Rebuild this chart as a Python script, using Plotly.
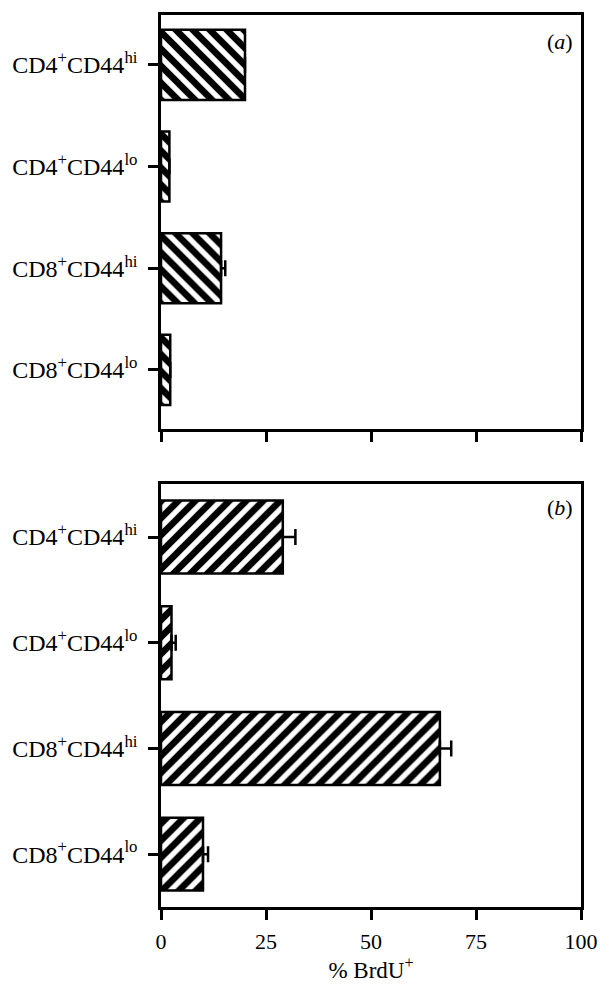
import plotly.graph_objects as go

# Data (top to bottom in the chart)
categories = ["CD4<sup>+</sup>CD44<sup>hi</sup>", "CD4<sup>+</sup>CD44<sup>lo</sup>",
              "CD8<sup>+</sup>CD44<sup>hi</sup>", "CD8<sup>+</sup>CD44<sup>lo</sup>"]
values_a = [20.0, 2.0, 14.3, 2.2]
err_a = [0, 0, 1.0, 0]
values_b = [29.0, 2.5, 66.4, 10.0]
err_b = [3.0, 1.0, 2.7, 1.2]
x_ticks = [0, 25, 50, 75, 100]

FONT = "Liberation Serif, Times New Roman, serif"
cat_order = list(reversed(categories))  # bottom-to-top

fig = go.Figure()

def add_bars(vals, errs, shape, xa, ya):
    fig.add_trace(go.Bar(
        x=vals, y=categories, orientation="h",
        xaxis=xa, yaxis=ya,
        marker=dict(color="white", line=dict(color="black", width=2.5),
                    pattern=dict(shape=shape, fgcolor="black", bgcolor="white",
                                 size=12, solidity=0.55, fillmode="replace")),
        error_x=dict(type="data", array=errs, arrayminus=[0]*len(errs), symmetric=False,
                     color="black", thickness=2.5, width=8, visible=True),
        showlegend=False,
    ))

add_bars(values_a, err_a, "\\", "x", "y")
add_bars(values_b, err_b, "/", "x2", "y2")

H_TOTAL = 986 - 14 - 69
a_bottom = (917 - 433) / H_TOTAL
b_top = (917 - 489) / H_TOTAL

axis_common = dict(showline=True, linecolor="black", linewidth=2.5, mirror=True,
                   ticks="outside", tickcolor="black", tickwidth=2.5, ticklen=10,
                   showgrid=False, zeroline=False)

fig.update_layout(
    width=610, height=986,
    margin=dict(l=160, r=20, t=14, b=69),
    paper_bgcolor="white", plot_bgcolor="white",
    font=dict(family=FONT, size=22, color="black"),
    bargap=0.31,
    xaxis=dict(domain=[0, 1], range=[0, 100], tickvals=x_ticks, showticklabels=False,
               anchor="y", **axis_common),
    yaxis=dict(domain=[a_bottom, 1], type="category", categoryorder="array",
               categoryarray=cat_order, range=[-0.58, 3.49], anchor="x",
               tickfont=dict(size=24), ticklabelstandoff=6, **axis_common),
    xaxis2=dict(domain=[0, 1], range=[0, 100], tickvals=x_ticks, anchor="y2",
                title=dict(text="% BrdU<sup>+</sup>", standoff=4,
                           font=dict(size=23)),
                tickfont=dict(size=22), ticklabelstandoff=3, **axis_common),
    yaxis2=dict(domain=[0, b_top], type="category", categoryorder="array",
                categoryarray=cat_order, range=[-0.5, 3.5], anchor="x2",
                tickfont=dict(size=24), ticklabelstandoff=6, **axis_common),
    annotations=[
        dict(text="(<i>a</i>)", xref="x domain", yref="y domain", x=0.985, y=0.935,
             xanchor="right", yanchor="middle", showarrow=False, font=dict(size=22)),
        dict(text="(<i>b</i>)", xref="x2 domain", yref="y2 domain", x=0.985, y=0.945,
             xanchor="right", yanchor="middle", showarrow=False, font=dict(size=22)),
    ],
)

fig.write_html("out.html")
